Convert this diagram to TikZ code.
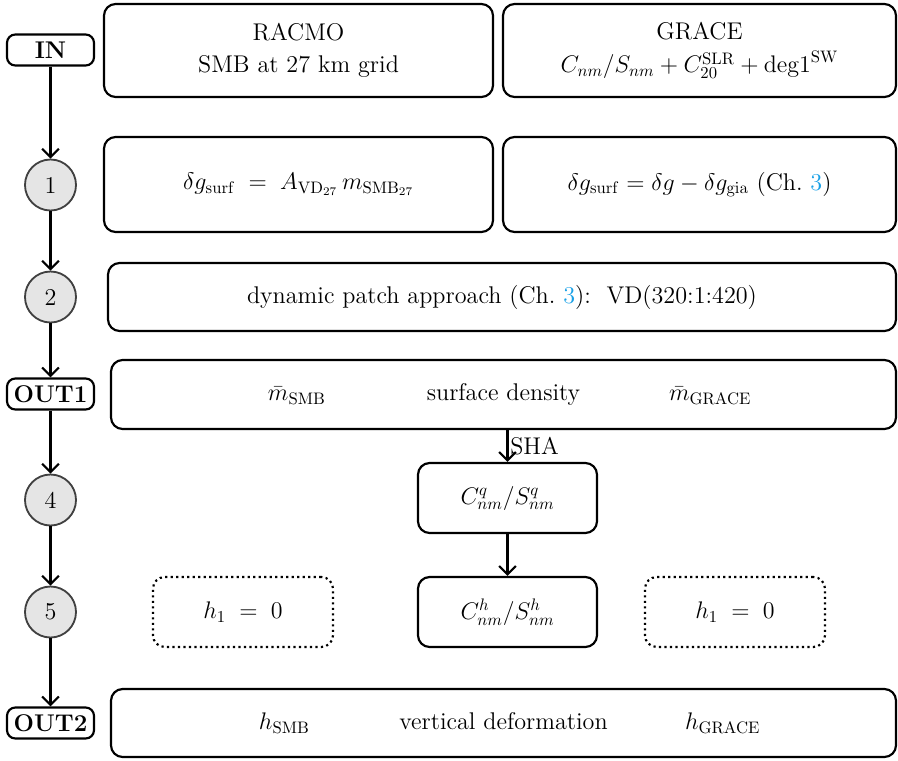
\documentclass[tikz,border=0pt]{standalone}
\usepackage{amsmath, amssymb}
\usepackage{xcolor}
\usepackage{tikz}
\usetikzlibrary{arrows.meta, positioning, calc}
\definecolor{LinkBlue}{RGB}{25, 160, 230}

\begin{document}
\begin{tikzpicture}[x=0.6pt, y=-0.6pt, font=\fontsize{14.5}{19}\selectfont,
    io/.style={draw, rounded corners=5pt, line width=1.3pt, font=\fontsize{14.5}{19}\selectfont\bfseries, minimum width=52.2pt, minimum height=18.6pt, inner sep=0pt},
    stage/.style={circle, draw=black!75, fill=black!10, line width=1.1pt, minimum size=30.6pt, inner sep=0pt},
    box/.style={draw, rounded corners=7pt, line width=1.3pt, align=center, inner sep=0pt},
    zerobox/.style={box, dotted},
    flow/.style={-{Straight Barb[length=5pt, width=10pt]}, line width=1.3pt}]
    \useasboundingbox (0,0) rectangle (898,760);

    % stages on the left
    \node[io] (in) at (50.5,50) {IN};
    \node[stage] (s1) at (50.5,185) {1};
    \node[stage] (s2) at (50.5,297) {2};
    \node[io] (out1) at (50.5,394) {OUT1};
    \node[stage] (s4) at (50.5,500) {4};
    \node[stage] (s5) at (50.5,612) {5};
    \node[io] (out2) at (50.5,723) {OUT2};

    \draw[flow] (in) -- (s1);
    \draw[flow] (s1) -- (s2);
    \draw[flow] (s2) -- (out1);
    \draw[flow] (out1) -- (s4);
    \draw[flow] (s4) -- (s5);
    \draw[flow] (s5) -- (out2);

    % input data
    \node[box, minimum width=233.4pt, minimum height=55.8pt] (racmo) at (298.5,50.5) {RACMO\\SMB at 27 km grid};
    \node[box, minimum width=235.8pt, minimum height=55.8pt] (grace) at (699.5,50.5) {GRACE\\[1pt]$C_{nm}/S_{nm}+C_{20}^{\mathrm{SLR}}+\mathrm{deg1}^{\mathrm{SW}}$};

    % step 1
    \node[box, minimum width=233.4pt, minimum height=57pt] (eqsmb) at (298.5,184.5) {$\delta g_{\mathrm{surf}} \;=\; A_{\mathrm{VD}_{27}}\, m_{\mathrm{SMB}_{27}}$};
    \node[box, minimum width=235.8pt, minimum height=57pt] (eqgrace) at (699.5,184.5) {$\delta g_{\mathrm{surf}}=\delta g-\delta g_{\mathrm{gia}}$ (Ch.~\textcolor{LinkBlue}{3})};

    % step 2
    \node[box, minimum width=472.8pt, minimum height=40.8pt] (patch) at (502,297) {dynamic patch approach (Ch.~\textcolor{LinkBlue}{3}):~~VD(320:1:420)};

    % output 1
    \node[box, minimum width=471pt, minimum height=41.4pt] (dens) at (503.5,394.5)
        {\makebox[124pt]{$\bar{m}_{\mathrm{SMB}}$}\makebox[124pt]{surface density}\makebox[124pt]{$\bar{m}_{\mathrm{GRACE}}$}};

    % steps 4 and 5
    \node[box, minimum width=107.4pt, minimum height=42pt] (cq) at (507.5,498) {$C_{nm}^{q}/S_{nm}^{q}$};
    \node[box, minimum width=107.4pt, minimum height=42pt] (ch) at (507.5,612) {$C_{nm}^{h}/S_{nm}^{h}$};
    \node[zerobox, minimum width=108pt, minimum height=42pt] (hleft) at (243,612) {$h_1 \;=\; 0$};
    \node[zerobox, minimum width=108pt, minimum height=42pt] (hright) at (735,612) {$h_1 \;=\; 0$};

    \draw[flow] (cq.north |- dens.south) -- node[midway, right, inner sep=1pt] {SHA} (cq.north);
    \draw[flow] (cq) -- (ch);

    % output 2
    \node[box, minimum width=471pt, minimum height=40.8pt] (defo) at (503.5,723)
        {\makebox[139pt]{$h_{\mathrm{SMB}}$}\makebox[124pt]{vertical deformation}\makebox[139pt]{$h_{\mathrm{GRACE}}$}};

\end{tikzpicture}
\end{document}
